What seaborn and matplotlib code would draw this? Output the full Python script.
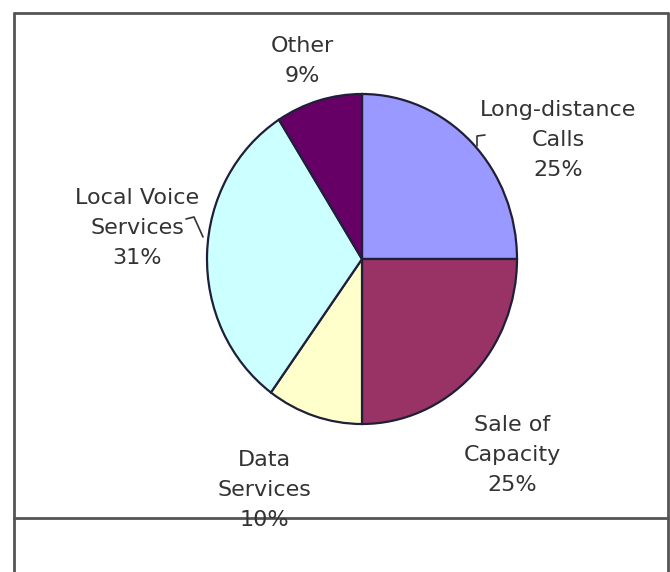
import matplotlib
matplotlib.use("Agg")
import matplotlib.pyplot as plt
import seaborn as sns
from matplotlib.lines import Line2D

# ---- data ----
categories = ["Long-distance\nCalls", "Sale of\nCapacity", "Data\nServices",
              "Local Voice\nServices", "Other"]
shares = [25, 25, 10, 31, 9]
colors = ["#9999FF", "#993366", "#FFFFCC", "#CCFFFF", "#660066"]

sns.set_theme(style="white")
plt.rcParams["font.family"] = ["DejaVu Sans"]

W, H = 670, 572
fig = plt.figure(figsize=(W / 100, H / 100), dpi=100)
fig.patch.set_facecolor("white")

def fx(x):
    return x / W

def fy(y):
    return 1 - y / H

# pie axes (pixel box of the ellipse)
cx, cy, rx, ry = 362, 259, 155, 165
ax = fig.add_axes([fx(cx - rx), fy(cy + ry), 2 * rx / W, 2 * ry / H])
wedges, _ = ax.pie(shares, colors=colors, startangle=90, counterclock=False,
                   radius=1.0,
                   wedgeprops=dict(edgecolor="#1f1f3a", linewidth=1.6))
for w in wedges:
    w.set_clip_on(False)
ax.set_aspect("auto")
ax.set_xlim(-1, 1)
ax.set_ylim(-1, 1)
ax.axis("off")

# labels: text + percentage, placed at label spots (pixel coords)
label_pos = [(558, 140), (512, 455), (264, 490), (137, 228), (302, 61)]
for cat, val, (px, py) in zip(categories, shares, label_pos):
    fig.text(fx(px), fy(py), f"{cat}\n{val}%", ha="center", va="center",
             multialignment="center", fontsize=16, color="#333333",
             linespacing=1.62)

# small leader marks
leaders = [
    [(477, 146), (477, 136), (485, 135)],
    [(186, 219), (194, 217), (203, 237)],
]
for pts in leaders:
    xs = [fx(p[0]) for p in pts]
    ys = [fy(p[1]) for p in pts]
    fig.add_artist(Line2D(xs, ys, color="#333333", lw=1.2))

# frame and divider line
frame_c = "#555555"
fig.add_artist(Line2D([fx(14), fx(668)], [fy(13), fy(13)], color=frame_c, lw=2))
fig.add_artist(Line2D([fx(14), fx(14)], [fy(13), fy(575)], color=frame_c, lw=2))
fig.add_artist(Line2D([fx(668), fx(668)], [fy(13), fy(575)], color=frame_c, lw=2))
fig.add_artist(Line2D([fx(14), fx(668)], [fy(518), fy(518)], color=frame_c, lw=2))

fig.savefig("out.png", dpi=100)
